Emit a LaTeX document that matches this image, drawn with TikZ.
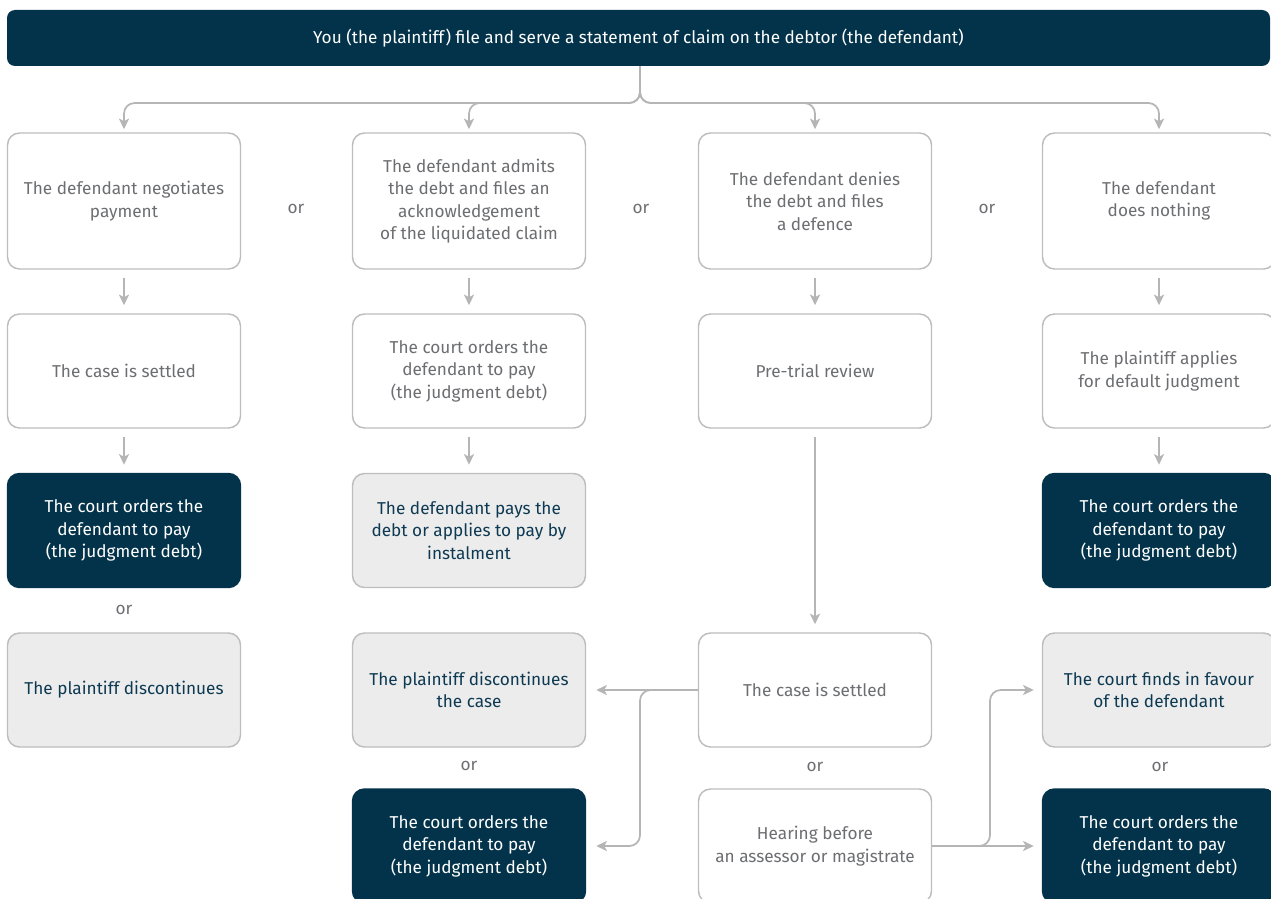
\documentclass[tikz,border=0pt]{standalone}
\usepackage{fontspec}
\setmainfont{Fira Sans}
\usepackage{tikz}
\usetikzlibrary{arrows.meta}
\definecolor{navy}{HTML}{03334A}
\definecolor{navytext}{HTML}{0D3A52}
\definecolor{greytext}{HTML}{6D6E71}
\definecolor{boxline}{HTML}{BDBDBD}
\definecolor{lightfill}{HTML}{ECECEC}
\definecolor{arrowgrey}{HTML}{B5B5B5}

\begin{document}
\begin{tikzpicture}[x=0.75pt,y=-0.75pt,font=\fontsize{12.9}{16.9}\selectfont]
            \tikzstyle{box}=[rectangle,rounded corners=9pt,draw=boxline,line width=1.1pt,fill=white,text=greytext,minimum width=174.75pt,minimum height=85.5pt,align=center,inner sep=0pt]
            \tikzstyle{tallbox}=[box,minimum height=102pt]
            \tikzstyle{lightbox}=[box,fill=lightfill,text=navytext]
            \tikzstyle{darkbox}=[box,draw=navy,fill=navy,text=white]
            \tikzstyle{bar}=[rectangle,rounded corners=6pt,fill=navy,text=white,minimum width=947.25pt,minimum height=42pt,inner sep=0pt]
            \tikzstyle{ortext}=[text=greytext,inner sep=0pt]
            \tikzstyle{arr}=[draw=arrowgrey,line width=1.3pt,-{Stealth[length=8pt,width=7.5pt,inset=2pt]},shorten <=6pt,shorten >=6pt]
                    \useasboundingbox (0,0) rectangle (1271,899);

                    \node[bar] (T) at (638.5,38) {You (the plaintiff) file and serve a statement of claim on the debtor (the defendant)};

                    % first row
                    \node[tallbox] (B-11) at (124,201) {The defendant negotiates\\payment};
                    \node[tallbox] (B-21) at (469,201) {The defendant admits\\the debt and files an\\acknowledgement\\of the liquidated claim};
                    \node[tallbox] (B-31) at (815,201) {The defendant denies\\the debt and files\\a defence};
                    \node[tallbox] (B-41) at (1159,201) {The defendant\\does nothing};

                    % second row
                    \node[box] (B-12) at (124,371) {The case is settled};
                    \node[box] (B-22) at (469,371) {The court orders the\\defendant to pay\\(the judgment debt)};
                    \node[box] (B-32) at (815,371) {Pre-trial review};
                    \node[box] (B-42) at (1159,371) {The plaintiff applies\\for default judgment};

                    % third row
                    \node[darkbox] (B-13) at (124,530.5) {The court orders the\\defendant to pay\\(the judgment debt)};
                    \node[lightbox] (B-23) at (469,530.5) {The defendant pays the\\debt or applies to pay by\\instalment};
                    \node[darkbox] (B-43) at (1159,530.5) {The court orders the\\defendant to pay\\(the judgment debt)};

                    % fourth row
                    \node[lightbox] (B-14) at (124,690) {The plaintiff discontinues};
                    \node[lightbox] (B-24) at (469,690) {The plaintiff discontinues\\the case};
                    \node[box] (B-34) at (815,690) {The case is settled};
                    \node[lightbox] (B-44) at (1159,690) {The court finds in favour\\of the defendant};

                    % fifth row
                    \node[darkbox] (B-25) at (469,846) {The court orders the\\defendant to pay\\(the judgment debt)};
                    \node[box] (B-35) at (815,846) {Hearing before\\an assessor or magistrate};
                    \node[darkbox] (B-45) at (1159,846) {The court orders the\\defendant to pay\\(the judgment debt)};

                    \node[ortext] (O-1) at (296,209) {or};
                    \node[ortext] (O-2) at (641,209) {or};
                    \node[ortext] (O-3) at (987,209) {or};
                    \node[ortext] (O-4) at (124,610) {or};
                    \node[ortext] (O-5) at (469,766) {or};
                    \node[ortext] (O-6) at (815,767) {or};
                    \node[ortext] (O-7) at (1160,767) {or};

                    \coordinate (S) at (640,103);
                    \coordinate (LX) at (640,0);
                    \coordinate (RX) at (990,0);

                \foreach \to in {11,21,31,41}
                    \draw[arr,rounded corners=8pt,shorten <=0pt,shorten >=2.25pt] (T.south -| S) -- (S) -| (B-\to.north);
                \foreach \from/\to in {11/12, 21/22, 31/32, 41/42, 12/13, 22/23, 42/43, 32/34}
                    \draw[arr] (B-\from.south) -- (B-\to.north);

                \draw[arr,shorten <=0pt,shorten >=7.5pt] (B-34.west) -- (B-24.east);
                \draw[arr,rounded corners=8pt,shorten <=0pt,shorten >=7.5pt] (B-34.west) -| (LX |- B-25.east) -- (B-25.east);
                \draw[arr,shorten <=0pt,shorten >=6pt] (B-35.east) -- (B-45.west);
                \draw[arr,rounded corners=8pt,shorten <=0pt,shorten >=6pt] (B-35.east) -| (RX |- B-44.west) -- (B-44.west);
        \end{tikzpicture}
\end{document}
